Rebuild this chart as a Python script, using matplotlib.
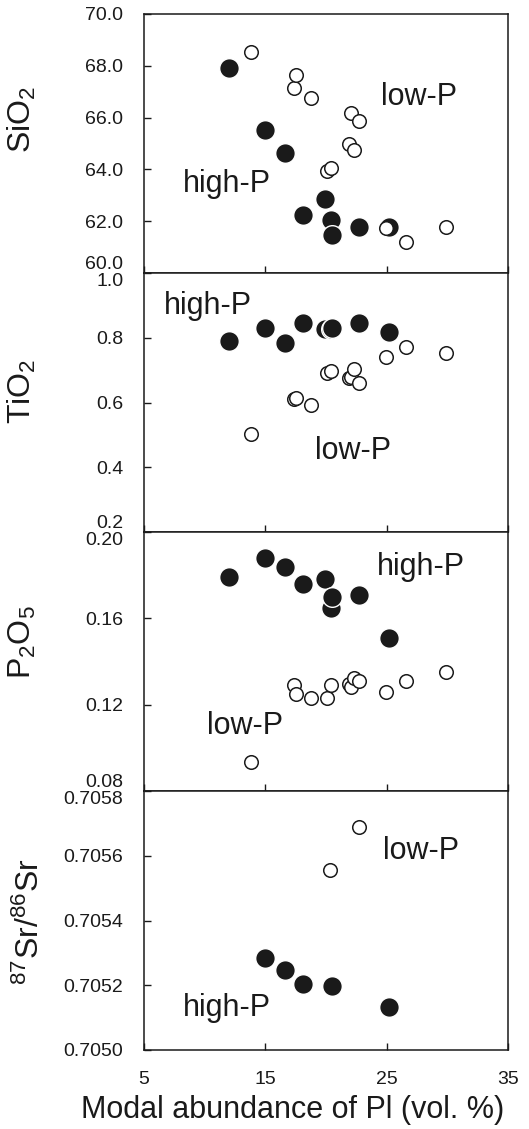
import numpy as np
import matplotlib
matplotlib.use("Agg")
import matplotlib.pyplot as plt

plt.rcParams['font.family'] = ['Liberation Sans', 'DejaVu Sans']
plt.rcParams['mathtext.fontset'] = 'custom'
plt.rcParams['mathtext.rm'] = 'Liberation Sans'
plt.rcParams['mathtext.default'] = 'regular'

# high-P samples (filled symbols)
high_x = [12.0, 15.0, 16.6, 18.1, 19.9, 20.4, 20.5, 22.7, 25.2]
high_sio2 = [67.9, 65.53, 64.62, 62.25, 62.84, 62.05, 61.48, 61.78, 61.78]
high_tio2 = [0.789, 0.829, 0.785, 0.847, 0.828, 0.826, 0.829, 0.847, 0.819]
high_p2o5 = [0.179, 0.188, 0.184, 0.176, 0.178, 0.165, 0.170, 0.171, 0.151]

# low-P samples (open symbols)
low_x = [13.85, 17.4, 17.5, 18.75, 20.1, 20.4, 21.9, 22.1, 22.3, 22.7, 24.95, 26.6, 29.9]
low_sio2 = [68.54, 67.15, 67.63, 66.76, 63.92, 64.05, 64.97, 66.17, 64.75, 65.85, 61.72, 61.21, 61.79]
low_tio2 = [0.502, 0.610, 0.615, 0.592, 0.690, 0.698, 0.675, 0.678, 0.703, 0.660, 0.741, 0.771, 0.753]
low_p2o5 = [0.0936, 0.129, 0.125, 0.123, 0.123, 0.129, 0.1296, 0.128, 0.1325, 0.131, 0.126, 0.131, 0.135]

# Sr isotopes (fewer samples)
high_sr_x = [15.0, 16.6, 18.1, 20.5, 25.2]
high_sr = [0.705284, 0.705246, 0.705204, 0.705199, 0.705134]
low_sr_x = [20.3, 22.7]
low_sr = [0.705555, 0.705689]

xticks = [5, 15, 25, 35]
ylabels = [r'SiO$_2$', r'TiO$_2$', r'P$_2$O$_5$', r'$^{87}$Sr/$^{86}$Sr']
yticks = [[60, 62, 64, 66, 68, 70],
          [0.2, 0.4, 0.6, 0.8, 1.0],
          [0.08, 0.12, 0.16, 0.20],
          [0.7050, 0.7052, 0.7054, 0.7056, 0.7058]]
yticklabels = [['60.0', '62.0', '64.0', '66.0', '68.0', '70.0'],
               ['0.2', '0.4', '0.6', '0.8', '1.0'],
               ['0.08', '0.12', '0.16', '0.20'],
               ['0.7050', '0.7052', '0.7054', '0.7056', '0.7058']]

panels = [
    (high_x, high_sio2, low_x, low_sio2),
    (high_x, high_tio2, low_x, low_tio2),
    (high_x, high_p2o5, low_x, low_p2o5),
    (high_sr_x, high_sr, low_sr_x, low_sr),
]

# group label positions (data coords, left/baseline)
labels = [
    [('low-P', 24.5, 66.5), ('high-P', 8.2, 63.14)],
    [('high-P', 6.6, 0.872), ('low-P', 19.1, 0.426)],
    [('high-P', 24.2, 0.180), ('low-P', 10.2, 0.1065)],
    [('low-P', 24.7, 0.70559), ('high-P', 8.2, 0.705104)],
]

ylabel_pos = [(22, 119), (22, 391), (22, 642), (30, 922)]

fig, axes = plt.subplots(4, 1, figsize=(5.29, 11.29), dpi=100, sharex=True)
fig.subplots_adjust(left=144 / 529, right=508 / 529, top=1 - 14 / 1129,
                    bottom=1 - 1050 / 1129, hspace=0)

for i, ax in enumerate(axes):
    hx, hy, lx, ly = panels[i]
    ax.scatter(hx, hy, s=200, c='#1a1a1a', edgecolors='white', linewidths=1.0, zorder=3)
    ax.scatter(lx, ly, s=95, c='white', edgecolors='#1a1a1a', linewidths=1.1, zorder=4)

    ax.set_xlim(5, 35)
    ax.set_ylim(yticks[i][0], yticks[i][-1])
    ax.set_xticks(xticks)
    ax.set_yticks(yticks[i])
    ax.set_yticklabels(yticklabels[i])
    ax.tick_params(direction='in', length=5, width=1, labelsize=14, pad=15,
                   colors='#1a1a1a')
    for sp in ax.spines.values():
        sp.set_linewidth(1.1)
        sp.set_color('#1a1a1a')

    tl = ax.get_yticklabels()
    if i > 0:
        tl[-1].set_va('top')
    if i < 3:
        tl[0].set_va('bottom')

    for txt, tx, ty in labels[i]:
        ax.text(tx, ty, txt, fontsize=22, ha='left', va='baseline', color='#1a1a1a')

    px, py = ylabel_pos[i]
    fig.text(px / 529, 1 - py / 1129, ylabels[i], rotation=90, fontsize=23,
             ha='center', va='center', color='#1a1a1a')

fig.text(293 / 529, 1 - 1110 / 1129, 'Modal abundance of Pl (vol. %)', fontsize=22,
         ha='center', va='center', color='#1a1a1a')

fig.savefig('out.png', dpi=100)
